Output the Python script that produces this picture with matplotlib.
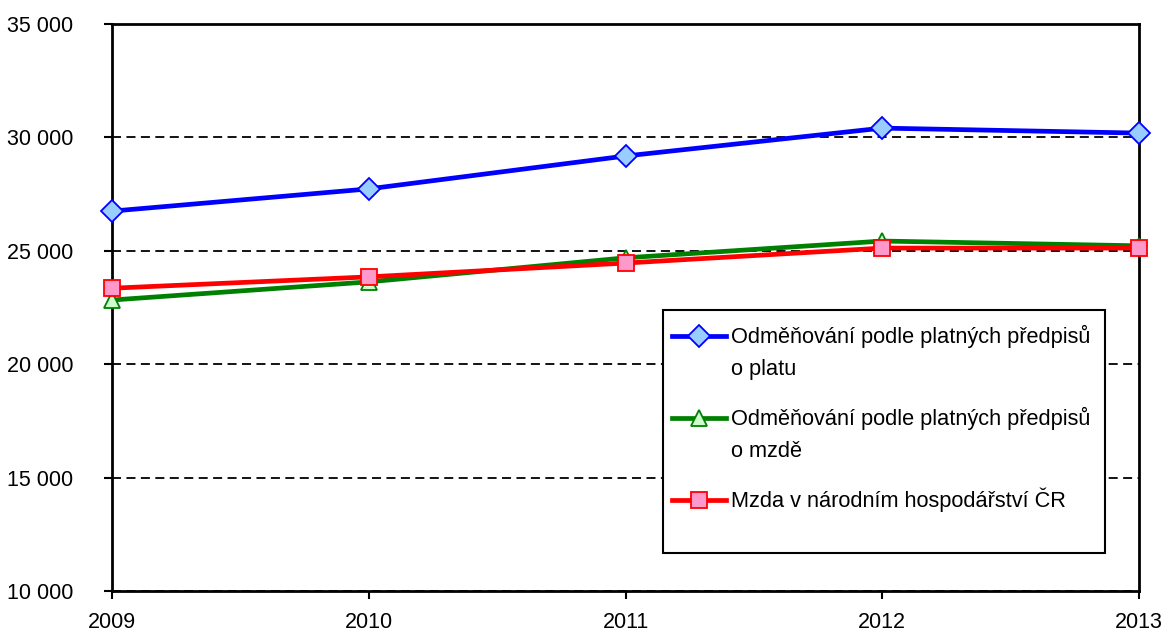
import matplotlib
matplotlib.use("Agg")
import matplotlib.pyplot as plt
from matplotlib.ticker import FuncFormatter, MultipleLocator
from matplotlib.legend_handler import HandlerLine2D
from matplotlib.patches import Rectangle

plt.rcParams['font.family'] = ['Liberation Sans', 'DejaVu Sans']

years = [2009, 2010, 2011, 2012, 2013]
plat = [26750, 27730, 29180, 30410, 30190]
mzda_predpis = [22830, 23630, 24690, 25430, 25220]
mzda_nh = [23350, 23850, 24460, 25120, 25120]

labels = ["Odměňování podle platných předpisů\no platu",
          "Odměňování podle platných předpisů\no mzdě",
          "Mzda v národním hospodářství ČR"]

W, H = 1166, 634
fig = plt.figure(figsize=(W / 100, H / 100), dpi=100)
ax = fig.add_axes([112 / W, 1 - 591 / H, (1139 - 112) / W, (591 - 24) / H])

l1, = ax.plot(years, plat, color='#0000FF', lw=3.4, marker='D', ms=11,
              mfc='#99CCFF', mec='#0000FF', mew=1.3, clip_on=False, zorder=3)
l2, = ax.plot(years, mzda_predpis, color='#008000', lw=3.4, marker='^', ms=12,
              mfc='#CCFFCC', mec='#008000', mew=1.3, clip_on=False, zorder=4)
l3, = ax.plot(years, mzda_nh, color='#FF0000', lw=3.4, marker='s', ms=12,
              mfc='#FF99CC', mec='#FF0000', mew=1.3, clip_on=False, zorder=5)

ax.set_xlim(2009, 2013)
ax.set_ylim(10000, 35000)
ax.set_xticks(years)
ax.set_xticklabels([str(y) for y in years])
ax.yaxis.set_major_locator(MultipleLocator(5000))
ax.yaxis.set_major_formatter(FuncFormatter(lambda v, p: f"{int(v):,}".replace(",", " ")))
ax.grid(axis='y', color='black', ls=(0, (5, 3)), lw=1.3)
ax.set_axisbelow(True)
for s in ax.spines.values():
    s.set_linewidth(2)
ax.tick_params(axis='both', direction='out', length=6, width=1.5, labelsize=15.5)
ax.tick_params(axis='y', pad=22)
ax.tick_params(axis='x', pad=9)


class UpHandler(HandlerLine2D):
    def __init__(self, dy=0, **kw):
        super().__init__(**kw)
        self.dy = dy

    def create_artists(self, legend, orig_handle, xdescent, ydescent, width,
                       height, fontsize, trans):
        return super().create_artists(legend, orig_handle, xdescent,
                                      ydescent - 2 * self.dy, width, height,
                                      fontsize, trans)


fs = 15.7
dy = 12.2
fig.patches.append(Rectangle((663 / W, 1 - 553 / H), (1105 - 663) / W, (553 - 310) / H,
                             transform=fig.transFigure, fill=True, facecolor='white',
                             edgecolor='black', lw=1.5, zorder=6))
leg = fig.legend([l1, l2, l3], labels, loc='upper left',
                 bbox_to_anchor=(672 / W, 1 - 325 / H), borderaxespad=0,
                 frameon=False, fontsize=fs, borderpad=0, handlelength=2.48,
                 handletextpad=0.23, labelspacing=1.2,
                 handler_map={l1: UpHandler(dy), l2: UpHandler(dy), l3: UpHandler(0)})
for t in leg.get_texts():
    t.set_linespacing(1.7)
leg.set_zorder(10)

fig.savefig("out.png", dpi=100)
